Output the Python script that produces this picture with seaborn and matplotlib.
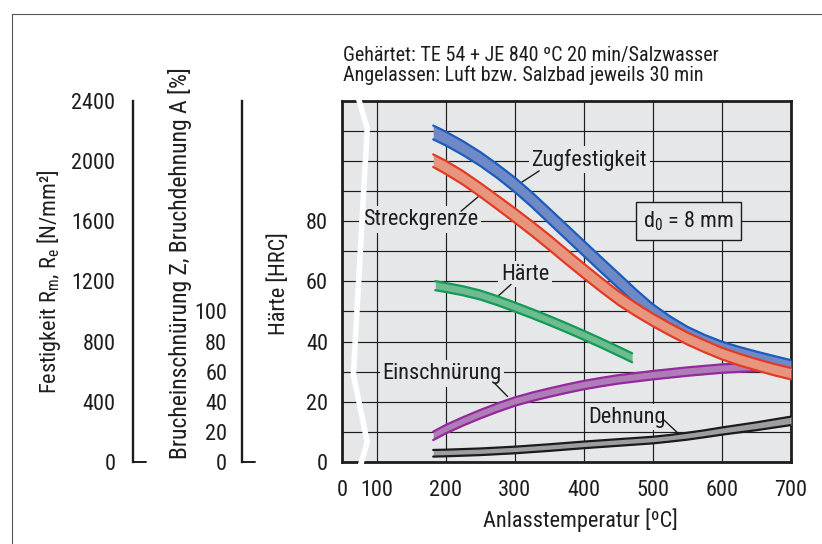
import numpy as np
import pandas as pd
import matplotlib
matplotlib.use("Agg")
import matplotlib.pyplot as plt
import seaborn as sns
from matplotlib import font_manager
from matplotlib.lines import Line2D

# ---------------- data ----------------
temp_zug = [182, 200, 225, 250, 275, 300, 325, 350, 375, 400, 425, 450,
            475, 500, 525, 550, 575, 600, 625, 650, 675, 700]
zug_upper = [111.9, 109.9, 106.7, 103.1, 99.0, 94.6, 89.65, 84.3, 78.9, 73.5, 68.1,
             62.8, 57.4, 52.4, 48.35, 44.9, 42.2, 39.95, 38.2, 36.65, 35.2, 33.8]
zug_lower = [107.3, 105.3, 102.1, 98.5, 94.4, 89.8, 84.75, 79.3, 73.9, 68.5, 63.1,
             57.8, 52.6, 48.0, 44.25, 41.1, 38.6, 36.45, 34.8, 33.35, 32.0, 30.6]

temp_streck = [182, 200, 225, 250, 275, 300, 325, 350, 375, 400, 425, 450,
               475, 500, 525, 550, 575, 600, 625, 650, 675, 700]
streck_upper = [102.3, 100.2, 96.75, 92.8, 88.65, 84.4, 80.05, 75.5, 70.7, 65.95, 61.3,
                56.8, 52.9, 49.3, 46.05, 43.0, 40.4, 37.95, 35.95, 34.2, 32.6, 31.2]
streck_lower = [98.1, 95.8, 92.25, 88.2, 83.95, 79.6, 75.15, 70.5, 65.7, 61.05, 56.5,
                52.2, 48.5, 45.1, 41.95, 39.0, 36.4, 34.05, 32.05, 30.4, 28.8, 27.4]

temp_haerte = [185, 200, 225, 250, 275, 300, 325, 350, 375, 400, 425, 450, 470]
haerte_upper = [60.1, 59.5, 58.4, 57.0, 55.1, 53.0, 50.8, 48.5, 46.1, 43.6, 41.0, 38.3, 36.1]
haerte_lower = [57.1, 56.5, 55.4, 54.0, 52.1, 50.0, 47.8, 45.5, 43.1, 40.6, 38.0, 35.3, 33.1]

temp_einsch = [182, 200, 225, 250, 275, 300, 325, 350, 375, 400, 425, 450,
               475, 500, 525, 550, 575, 600, 625, 655]
einsch_upper = [10.0, 12.2, 14.8, 17.2, 19.4, 21.4, 23.0, 24.4, 25.7, 26.9, 27.9,
                28.8, 29.5, 30.2, 30.8, 31.4, 31.9, 32.4, 32.7, 33.0]
einsch_lower = [7.2, 9.4, 12.0, 14.4, 16.6, 18.6, 20.2, 21.6, 22.9, 24.1, 25.1,
                26.0, 26.7, 27.4, 28.0, 28.6, 29.1, 29.6, 29.9, 30.2]

temp_dehn = [182, 200, 250, 300, 350, 400, 450, 500, 525, 550, 575, 600, 625, 650, 675, 700]
dehn_upper = [3.9, 4.0, 4.4, 5.0, 5.8, 6.7, 7.5, 8.3, 8.9, 9.65, 10.45, 11.4, 12.25,
              13.1, 14.05, 15.0]
dehn_lower = [1.7, 1.8, 2.2, 2.8, 3.6, 4.5, 5.3, 6.1, 6.7, 7.35, 8.15, 9.0, 9.75,
              10.5, 11.35, 12.2]

x_ticks = [0, 100, 200, 300, 400, 500, 600, 700]
hrc_ticks = [0, 20, 40, 60, 80]
hrc_grid = [10, 30, 50, 70, 90, 100, 110]
festigkeit_ticks = [0, 400, 800, 1200, 1600, 2000, 2400]
festigkeit_minor = [200, 600, 1000, 1400, 1800, 2200]
bruch_ticks = [0, 20, 40, 60, 80, 100]

title_lines = ["Gehärtet: TE 54 + JE 840 ºC 20 min/Salzwasser",
               "Angelassen: Luft bzw. Salzbad jeweils 30 min"]

# axis-break zigzag (decoration)
break_x = [47, 73, 33, 73, 52]
break_y = [121.2, 111, 29, 6.5, -1.8]

# ---------------- style ----------------
sns.set_theme(style="white")
names = {f.name for f in font_manager.fontManager.ttflist}
FONT = "Liberation Sans"
for cand in ["Nimbus Sans Narrow", "Liberation Sans Narrow", "Arial Narrow",
             "Roboto Condensed", "Archivo Narrow", "PT Sans Narrow",
             "Fira Sans Condensed"]:
    if cand in names:
        FONT = cand
        break
plt.rcParams["font.family"] = [FONT, "DejaVu Sans"]
plt.rcParams["mathtext.fontset"] = "custom"
plt.rcParams["mathtext.rm"] = FONT
plt.rcParams["mathtext.it"] = FONT + ":italic"
plt.rcParams["mathtext.bf"] = FONT + ":bold"

INK = "#1e1c1d"
BG = "#e6e7e9"
FS = 16

W, H = 822, 544
fig = plt.figure(figsize=(W / 100, H / 100), dpi=100)
fig.patch.set_facecolor("white")


def fx(px):
    return px / W


def fy(py):
    return 1 - py / H


L, R, T, B = 342, 791, 101.2, 461.7

# ---------------- main axes ----------------
ax = fig.add_axes([fx(L), fy(B), (R - L) / W, (B - T) / H])


def fwd(x):
    x = np.asarray(x, dtype=float)
    return np.where(x < 100, 50 + x / 2, x)


def inv(y):
    y = np.asarray(y, dtype=float)
    return np.where(y < 100, (y - 50) * 2, y)


ax.set_xscale("function", functions=(fwd, inv))
ax.set_xlim(0, 700)
ax.set_ylim(0, 120)
ax.set_facecolor(BG)


def band(x, up, lo, edge, fill, z):
    ax.fill_between(x, lo, up, color=fill, lw=0, zorder=z)
    df = pd.DataFrame({"T": list(x) * 2, "v": list(up) + list(lo),
                       "edge": ["u"] * len(x) + ["l"] * len(x)})
    sns.lineplot(data=df, x="T", y="v", units="edge", estimator=None,
                 color=edge, lw=1.6, ax=ax, zorder=z + 0.1, legend=False,
                 sort=False)


band(temp_dehn, dehn_upper, dehn_lower, "#1b1b1b", "#9d9d9f", 3.0)
band(temp_einsch, einsch_upper, einsch_lower, "#93299d", "#b07cb8", 3.2)
band(temp_haerte, haerte_upper, haerte_lower, "#129a57", "#6dbb8e", 3.4)
band(temp_zug, zug_upper, zug_lower, "#1b5cbd", "#6f89c7", 3.6)
band(temp_streck, streck_upper, streck_lower, "#e33a26", "#e8957e", 3.8)

ax.set_xticks(x_ticks)
ax.set_xticklabels([str(t) for t in x_ticks])
ax.xaxis.set_minor_locator(matplotlib.ticker.NullLocator())
ax.set_yticks(hrc_ticks)
ax.set_yticklabels([str(t) for t in hrc_ticks])
ax.set_yticks(hrc_grid, minor=True)
ax.grid(True, which="both", axis="y", color=INK, lw=0.85)
ax.grid(True, which="major", axis="x", color=INK, lw=0.85)
ax.set_axisbelow(True)
ax.tick_params(axis="x", length=0, pad=13, labelsize=FS, labelcolor=INK)
ax.tick_params(axis="y", which="major", length=5, width=0.9, pad=5,
               labelsize=FS, labelcolor=INK, color=INK, direction="out")
ax.tick_params(axis="y", which="minor", length=0)
for s in ax.spines.values():
    s.set_linewidth(2.0)
    s.set_color(INK)

ax.set_xlabel("Anlasstemperatur [ºC]", fontsize=FS, color=INK, va="center")
ax.xaxis.set_label_coords(fx(580), fy(520), transform=fig.transFigure)
ax.set_ylabel("Härte [HRC]", fontsize=FS, color=INK, va="center")
ax.yaxis.set_label_coords(fx(279), fy(284), transform=fig.transFigure)

# curve labels with leader lines
labels = [
    ("Zugfestigkeit", 408, 100.5, (335.5, 96.8), (301.8, 91.8)),
    ("Streckgrenze", 164.6, 80.6, (222.4, 83.4), (251.3, 89.0)),
    ("Härte", 315.3, 62.4, (294.7, 59.0), (273.0, 54.5)),
    ("Einschnürung", 195, 29.4, (270.5, 26.2), (289.7, 21.7)),
    ("Dehnung", 463, 14.8, (516.0, 13.9), (535.4, 9.7)),
]
for txt, tx, ty, p0, p1 in labels:
    ax.text(tx, ty, txt, fontsize=FS, color=INK, ha="center", va="center",
            zorder=2.5,
            bbox=dict(boxstyle="square,pad=0.12", fc=BG, ec="none"))
    ax.plot([p0[0], p1[0]], [p0[1], p1[1]], color=INK, lw=1.0, zorder=2.6)

ax.text(551.6, 80, "d$_\\mathregular{0}$ = 8 mm", fontsize=FS, color=INK,
        ha="center", va="center", zorder=2.5,
        bbox=dict(boxstyle="square,pad=0.32", fc=BG, ec=INK, lw=1.0))

# axis break
ax.plot(break_x, break_y, color="white", lw=4.0, clip_on=False, zorder=6,
        solid_joinstyle="miter", solid_capstyle="butt")

# ---------------- left scale: Festigkeit ----------------
ax1 = fig.add_axes([fx(133), fy(B), 13 / W, (B - T) / H])
ax1.set_xlim(0, 1)
ax1.set_ylim(0, 2400)
ax1.patch.set_visible(False)
for k in ["top", "right", "bottom"]:
    ax1.spines[k].set_visible(False)
ax1.spines["left"].set_linewidth(1.7)
ax1.spines["left"].set_color(INK)
ax1.set_xticks([])
ax1.set_yticks(festigkeit_ticks)
ax1.set_yticklabels([str(t) for t in festigkeit_ticks])
ax1.set_yticks(festigkeit_minor, minor=True)
ax1.tick_params(axis="y", which="both", length=7.2, width=0.9, pad=5.5,
                labelsize=FS, labelcolor=INK, color=INK)
ax1.plot([0, 1], [0, 0], color=INK, lw=1.4, clip_on=False)
ax1.set_ylabel(r"Festigkeit R$_\mathregular{m}$, R$_\mathregular{e}$ [N/mm²]",
               fontsize=FS, color=INK, va="center")
ax1.yaxis.set_label_coords(fx(49), fy(281.5), transform=fig.transFigure)

# ---------------- left scale: Brucheinschnürung / Bruchdehnung ----------------
ax2 = fig.add_axes([fx(242), fy(B), 13 / W, (B - T) / H])
ax2.set_xlim(0, 1)
ax2.set_ylim(0, 240)
ax2.patch.set_visible(False)
for k in ["top", "right", "bottom"]:
    ax2.spines[k].set_visible(False)
ax2.spines["left"].set_linewidth(1.7)
ax2.spines["left"].set_color(INK)
ax2.set_xticks([])
ax2.set_yticks(bruch_ticks)
ax2.set_yticklabels([str(t) for t in bruch_ticks])
ax2.tick_params(axis="y", which="both", length=7.2, width=0.9, pad=3.5,
                labelsize=FS, labelcolor=INK, color=INK)
ax2.plot([0, 1], [0, 0], color=INK, lw=1.4, clip_on=False)
ax2.set_ylabel("Brucheinschnürung Z, Bruchdehnung A [%]",
               fontsize=17, color=INK, va="center")
ax2.yaxis.set_label_coords(fx(180), fy(263.5), transform=fig.transFigure)

# ---------------- titles & frame ----------------
fig.text(fx(343), fy(55), title_lines[0], fontsize=14.5, color=INK,
         ha="left", va="center")
fig.text(fx(343), fy(75), title_lines[1], fontsize=14.5, color=INK,
         ha="left", va="center")
fig.add_artist(Line2D([fx(12), 1], [fy(14), fy(14)], color="#555555", lw=0.8))
fig.add_artist(Line2D([fx(12), fx(12)], [fy(14), 0], color="#555555", lw=0.8))

fig.savefig("out.png", dpi=100)
